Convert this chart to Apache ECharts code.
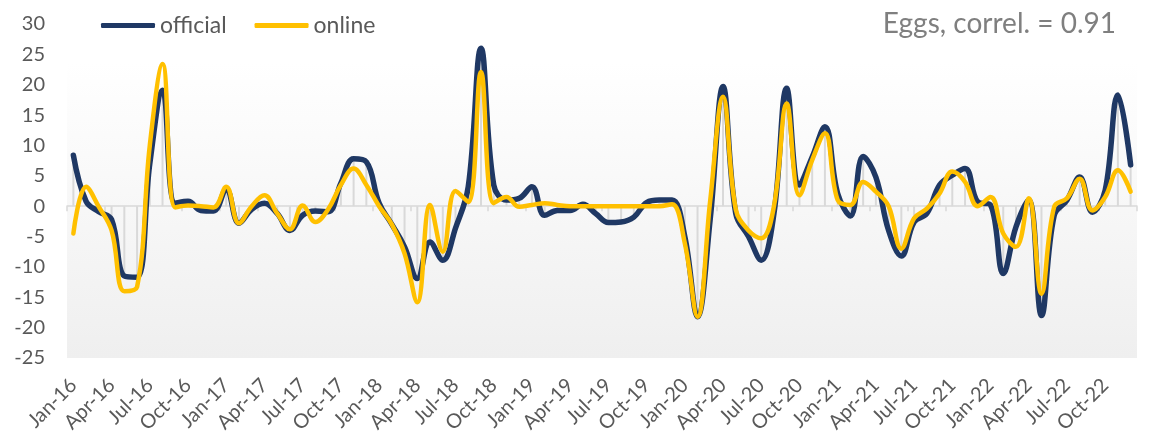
<!DOCTYPE html>
<html>
<head>
<meta charset="utf-8">
<script src="https://cdn.jsdelivr.net/npm/echarts@6/dist/echarts.min.js"></script>
<style>
html,body{margin:0;padding:0;background:#fff;}
#chart{width:1153px;height:447px;}
</style>
</head>
<body>
<div id="chart"></div>
<script>
const categories = [
 "Jan-16","Feb-16","Mar-16","Apr-16","May-16","Jun-16","Jul-16","Aug-16","Sep-16","Oct-16","Nov-16","Dec-16",
 "Jan-17","Feb-17","Mar-17","Apr-17","May-17","Jun-17","Jul-17","Aug-17","Sep-17","Oct-17","Nov-17","Dec-17",
 "Jan-18","Feb-18","Mar-18","Apr-18","May-18","Jun-18","Jul-18","Aug-18","Sep-18","Oct-18","Nov-18","Dec-18",
 "Jan-19","Feb-19","Mar-19","Apr-19","May-19","Jun-19","Jul-19","Aug-19","Sep-19","Oct-19","Nov-19","Dec-19",
 "Jan-20","Feb-20","Mar-20","Apr-20","May-20","Jun-20","Jul-20","Aug-20","Sep-20","Oct-20","Nov-20","Dec-20",
 "Jan-21","Feb-21","Mar-21","Apr-21","May-21","Jun-21","Jul-21","Aug-21","Sep-21","Oct-21","Nov-21","Dec-21",
 "Jan-22","Feb-22","Mar-22","Apr-22","May-22","Jun-22","Jul-22","Aug-22","Sep-22","Oct-22","Nov-22","Dec-22"
];
const official = [
 8.4, 0.8, -0.9, -2.2, -11.5, -11.7, 7, 19.1, 0.5, 0.8, -0.7, -0.8,
 2.8, -2.8, -0.5, 0.5, -1.2, -4, -1.5, -0.8, -0.9, 3.8, 7.8, 7.3,
 0.5, -3, -6.7, -11.9, -5.9, -8.9, -3.6, 3.2, 26, 3.5, 1, 1.3,
 3.2, -1.5, -0.7, -0.7, 0.3, -1.2, -2.7, -2.6, -1.8, 0.6, 1, 1,
 -5, -18.2, -2, 19.7, -1.2, -5, -8.9, -1.2, 19.4, 3.5, 8.1, 13.1,
 2.1, -1.6, 8.2, 4.8, -4, -8.2, -2.6, -1.2, 3.5, 5.1, 6.2, 0.7,
 0.2, -11.1, -3.4, 1, -18, -1.5, 1, 4.8, -1, 2.6, 18.3, 6.8
];
const online = [
 -4.5, 3.2, -0.1, -4, -14, -13.3, 10, 23.4, -0.2, 0.1, 0, -0.2,
 3.2, -2.8, 0, 1.8, -1.2, -3.8, 0.1, -2.6, -0.5, 3.5, 6.2, 3.5,
 0, -3, -7.8, -15.8, 0.2, -7.5, 2.5, 0.7, 22.1, 0.5, 1.5, -0.1,
 0.2, 0.5, 0.2, 0, 0, 0, 0, 0, 0, 0, 0, 0.3,
 -6.1, -18.2, 1, 18, -0.5, -4, -5.3, 0, 16.9, 1.8, 7.6, 12,
 1, 0.2, 4, 2.4, 0, -7, -2, -0.4, 2.1, 5.7, 4, 0,
 1.5, -4.5, -6.7, 1.3, -14.4, -0.1, 1.3, 4.5, -0.7, 1.5, 5.9, 2.4
];
const seriesNames = ["official", "online"];
const titleText = "Eggs, correl. = 0.91";

const FONT = "Lato, 'Open Sans', sans-serif";
const chart = echarts.init(document.getElementById('chart'), null, {renderer: 'canvas'});
chart.setOption({
  animation: false,
  backgroundColor: '#ffffff',
  title: {
    text: titleText, right: 32, top: 5,
    textStyle: {fontFamily: FONT, fontSize: 28, fontWeight: 'normal', color: '#7f7f7f'}
  },
  legend: {
    data: seriesNames, left: 96, top: 9, icon: 'roundRect',
    itemWidth: 54, itemHeight: 5, itemGap: 28,
    textStyle: {fontFamily: FONT, fontSize: 23, color: '#595959'}
  },
  graphic: [{
    type: 'rect', z: 0, silent: true,
    shape: {x: 67, y: 62, width: 1070, height: 296},
    style: {fill: new echarts.graphic.LinearGradient(0, 0, 0, 1, [
      {offset: 0, color: '#ffffff'}, {offset: 1, color: '#efefef'}])}
  }],
  grid: {left: 67, right: 16, top: 24, bottom: 89},
  xAxis: [{
    type: 'category', data: categories, boundaryGap: true,
    axisLine: {onZero: true, lineStyle: {color: '#d9d9d9', width: 1.5}},
    axisTick: {show: true, interval: 2, length: 5, lineStyle: {color: '#d9d9d9', width: 1.5}},
    axisLabel: {show: false}, splitLine: {show: false}
  }, {
    type: 'category', data: categories, boundaryGap: true, position: 'bottom',
    axisLine: {show: false, onZero: false}, axisTick: {show: false},
    axisLabel: {interval: 2, rotate: 45, margin: 24, fontFamily: FONT, fontSize: 20, color: '#595959'}
  }],
  yAxis: {
    type: 'value', min: -25, max: 30, interval: 5,
    axisLine: {show: false}, axisTick: {show: false}, splitLine: {show: false},
    axisLabel: {margin: 22, fontFamily: FONT, fontSize: 20, color: '#595959'}
  },
  series: [{
    name: 'drop', type: 'bar', data: official, barWidth: 2, silent: true, z: 1,
    itemStyle: {color: '#d9d9d9'}
  }, {
    name: seriesNames[0], type: 'line', data: official, smooth: 0.4, symbol: 'none', z: 3,
    itemStyle: {color: '#1f3864'},
    lineStyle: {color: '#1f3864', width: 5.5, cap: 'round', join: 'round'}
  }, {
    name: seriesNames[1], type: 'line', data: online, smooth: 0.4, symbol: 'none', z: 4,
    itemStyle: {color: '#ffc000'},
    lineStyle: {color: '#ffc000', width: 4.5, cap: 'round', join: 'round'}
  }]
});
</script>
</body>
</html>
